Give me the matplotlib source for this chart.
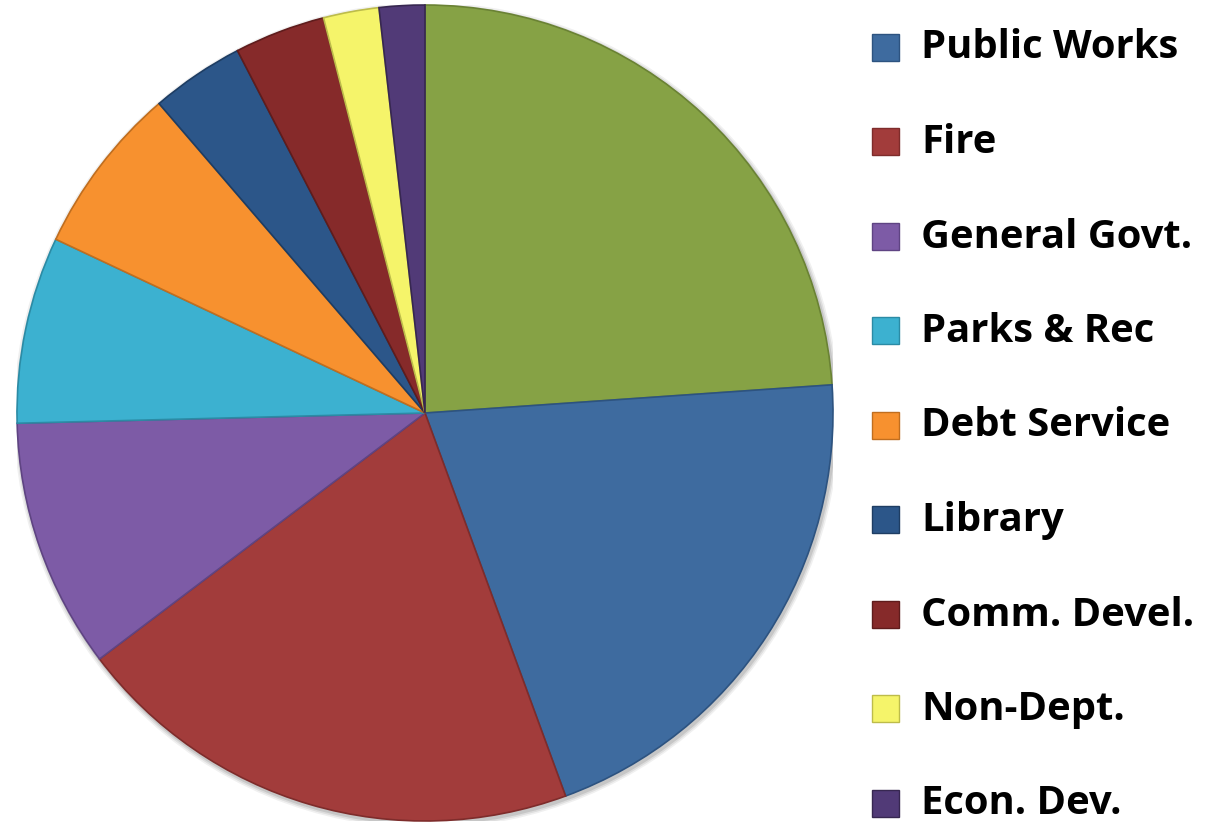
import matplotlib.pyplot as plt
from matplotlib.patches import Rectangle, Circle

# share of general fund spending, starting at 12 o'clock, clockwise
labels = ['Police', 'Public Works', 'Fire', 'General Govt.', 'Parks & Rec',
          'Debt Service', 'Library', 'Comm. Devel.', 'Non-Dept.', 'Econ. Dev.']
shares = [23.9, 20.5, 20.3, 9.9, 7.4, 6.7, 3.7, 3.6, 2.2, 1.8]
colors = ['#86A245', '#3E6B9F', '#A23C3B', '#7D5BA6', '#3CB1D0',
          '#F7912F', '#2C5689', '#862A2A', '#F5F46A', '#513A77']
edge_colors = ['#6A8234', '#2D5380', '#7E2C2B', '#5F4483', '#2B8BA5',
               '#C06E1F', '#1E3D63', '#5F1C1C', '#BDBC4A', '#372751']
# the legend lists every series except the first
legend_labels = labels[1:]
legend_colors = colors[1:]

W, H = 1219, 826
fig = plt.figure(figsize=(W / 100, H / 100), dpi=100)

cx, cy, r = 425, 413, 408
ax = fig.add_axes([(cx - r) / W, (H - cy - r) / H, 2 * r / W, 2 * r / H])
# soft drop shadow under the pie
for k, a in enumerate([0.10, 0.08, 0.06]):
    ax.add_patch(Circle((0.004, -0.006), 1 + 0.004 * (k + 1),
                        facecolor='#000000', alpha=a, edgecolor='none',
                        zorder=0))
wedges, _ = ax.pie(shares, colors=colors, startangle=90, counterclock=False,
                   radius=1, wedgeprops=dict(linewidth=1.2))
for w, ec in zip(wedges, edge_colors):
    w.set_edgecolor(ec)
    w.set_zorder(2)
ax.set_xlim(-1, 1)
ax.set_ylim(-1, 1)
ax.set_aspect('equal')
ax.axis('off')

# legend drawn by hand: square marker + bold label
lax = fig.add_axes([0, 0, 1, 1], facecolor='none')
lax.set_xlim(0, W)
lax.set_ylim(H, 0)
lax.axis('off')
y0, step, sq = 47, 94.5, 27
for i, (lab, col) in enumerate(zip(legend_labels, legend_colors)):
    y = y0 + i * step
    lax.add_patch(Rectangle((872, y - sq / 2), sq, sq, facecolor=col,
                            edgecolor=edge_colors[i + 1], linewidth=1))
    lax.text(921, y + 1, lab, fontsize=28.8, fontweight='bold',
             family='Open Sans', va='center', ha='left', color='black')

fig.savefig('out.png', dpi=100)
